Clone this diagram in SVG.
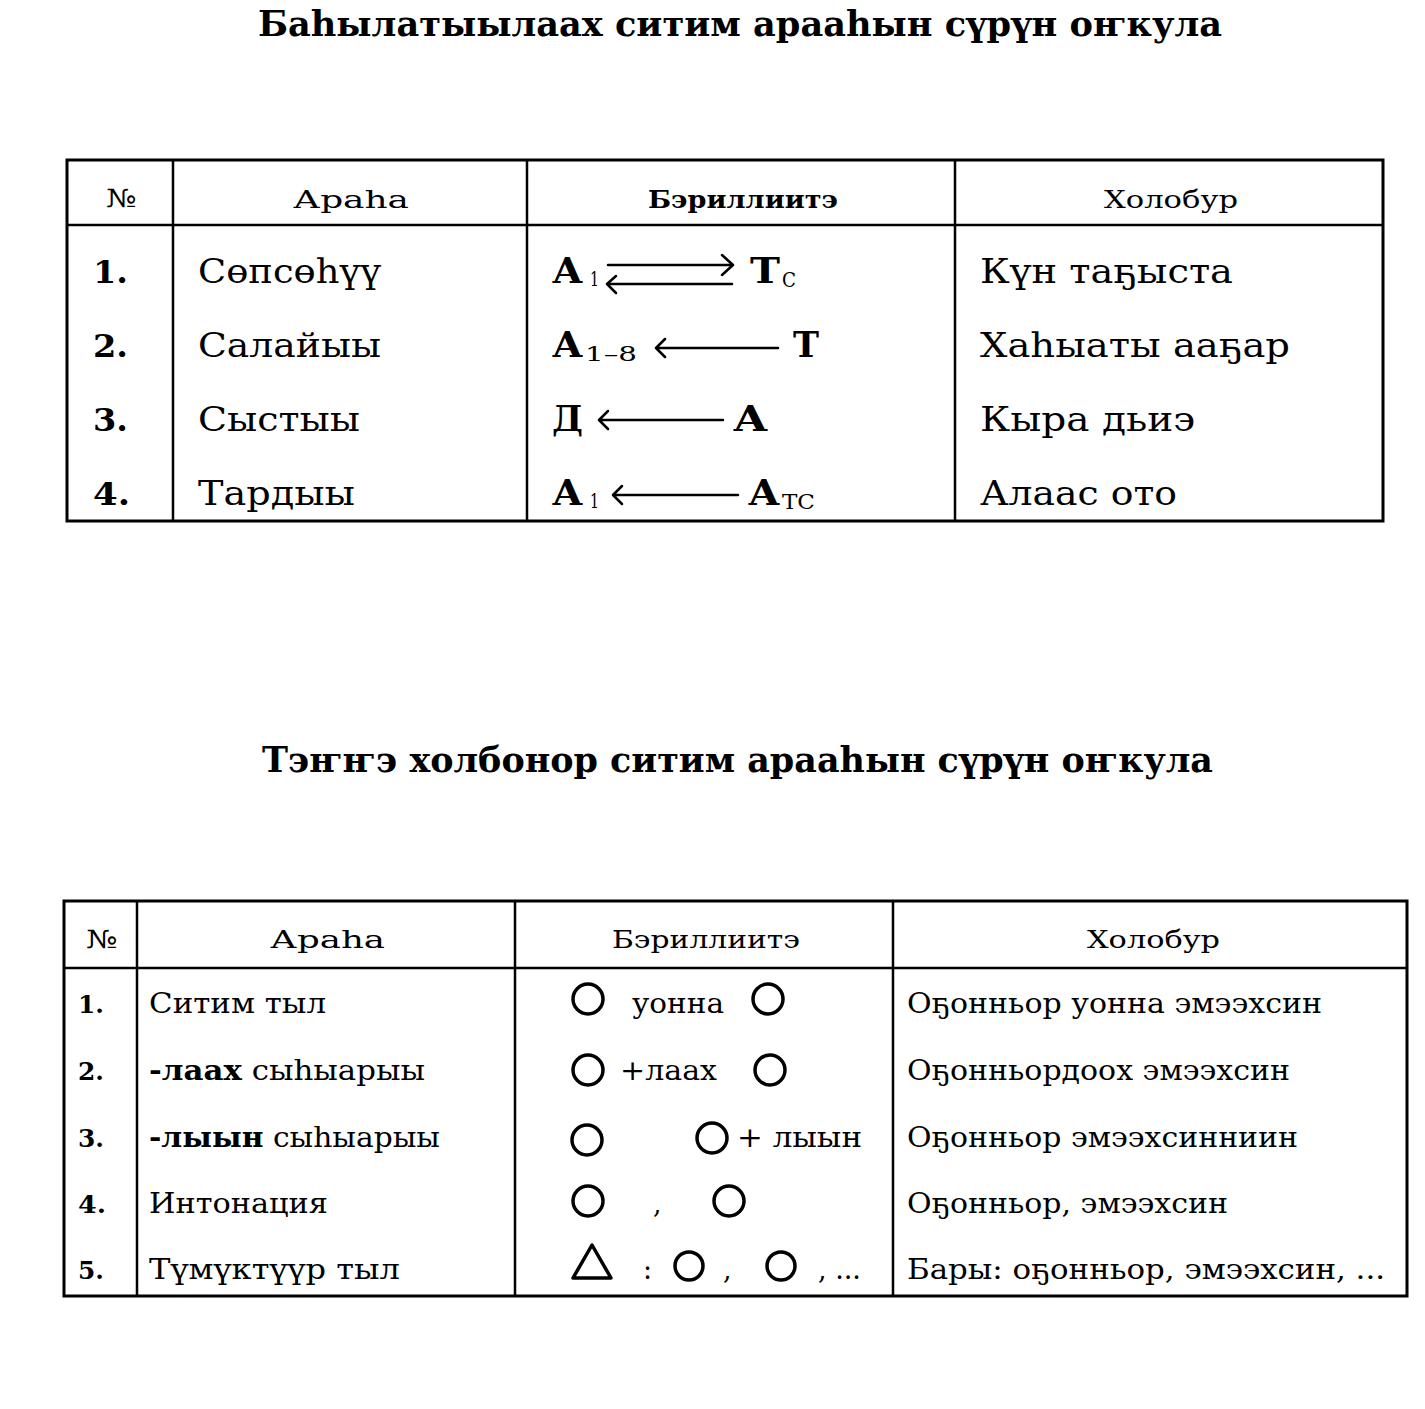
<svg xmlns="http://www.w3.org/2000/svg" width="1425" height="1409" viewBox="0 0 1425 1409">
<style>
text{font-family:"DejaVu Serif","Liberation Serif","Noto Serif",serif;fill:#000}
.title{font-size:36px;font-weight:bold}
.hd{font-size:25px}
.hdb{font-size:25px;font-weight:bold}
.num1{font-size:32px;font-weight:bold}
.b1{font-size:34px}
.f1{font-size:35px;font-weight:bold}
.s1{font-size:21px}
.num2{font-size:25px;font-weight:bold}
.b2{font-size:27px}
.frame{fill:none;stroke:#000;stroke-width:3}
.grid{stroke:#000;stroke-width:2.5;fill:none}
.arr{stroke:#000;stroke-width:2.5;fill:none;stroke-linecap:round;stroke-linejoin:round}
.sym{stroke:#000;stroke-width:3.5;fill:none}
</style>
<rect width="1425" height="1409" fill="#fff"/>

<g id="title1">
<text class="title" x="258" y="36" textLength="964" lengthAdjust="spacingAndGlyphs">Баһылатыылаах ситим арааһын сүрүн оҥкула</text>
</g>

<g id="table1">
<rect class="frame" x="67" y="160" width="1316" height="361"/>
<line class="grid" x1="67" y1="225" x2="1383" y2="225"/>
<line class="grid" x1="173" y1="160" x2="173" y2="521"/>
<line class="grid" x1="527" y1="160" x2="527" y2="521"/>
<line class="grid" x1="955" y1="160" x2="955" y2="521"/>
<g id="t1-header">
<text class="hd" x="106" y="207" textLength="31" lengthAdjust="spacingAndGlyphs">№</text>
<text class="hd" x="293" y="208" textLength="116" lengthAdjust="spacingAndGlyphs">Араһа</text>
<text class="hdb" x="648" y="208" textLength="190" lengthAdjust="spacingAndGlyphs">Бэриллиитэ</text>
<text class="hd" x="1104" y="208" textLength="134" lengthAdjust="spacingAndGlyphs">Холобур</text>
</g>
<g id="t1-row1">
<text class="num1" x="93" y="283" textLength="35" lengthAdjust="spacingAndGlyphs">1.</text>
<text class="b1" x="198" y="283" textLength="183" lengthAdjust="spacingAndGlyphs">Сөпсөһүү</text>
<text class="f1" x="552" y="283" textLength="31" lengthAdjust="spacingAndGlyphs">А</text><text class="s1" x="590" y="286" textLength="9" lengthAdjust="spacingAndGlyphs">1</text>
<text class="f1" x="750" y="283" textLength="30" lengthAdjust="spacingAndGlyphs">Т</text><text class="s1" x="782" y="287" textLength="14" lengthAdjust="spacingAndGlyphs">С</text>
<text class="b1" x="980" y="283" textLength="253" lengthAdjust="spacingAndGlyphs">Күн таҕыста</text>
</g>
<g id="t1-row2">
<text class="num1" x="93" y="357" textLength="35" lengthAdjust="spacingAndGlyphs">2.</text>
<text class="b1" x="198" y="357" textLength="183" lengthAdjust="spacingAndGlyphs">Салайыы</text>
<text class="f1" x="552" y="357" textLength="31" lengthAdjust="spacingAndGlyphs">А</text><text class="s1" x="585" y="361" textLength="52" lengthAdjust="spacingAndGlyphs">1–8</text>
<text class="f1" x="793" y="357" textLength="26" lengthAdjust="spacingAndGlyphs">Т</text>
<text class="b1" x="980" y="357" textLength="310" lengthAdjust="spacingAndGlyphs">Хаһыаты ааҕар</text>
</g>
<g id="t1-row3">
<text class="num1" x="93" y="431" textLength="35" lengthAdjust="spacingAndGlyphs">3.</text>
<text class="b1" x="198" y="431" textLength="162" lengthAdjust="spacingAndGlyphs">Сыстыы</text>
<text class="f1" x="552" y="431" textLength="31" lengthAdjust="spacingAndGlyphs">Д</text>
<text class="f1" x="733" y="431" textLength="35" lengthAdjust="spacingAndGlyphs">А</text>
<text class="b1" x="980" y="431" textLength="215" lengthAdjust="spacingAndGlyphs">Кыра дьиэ</text>
</g>
<g id="t1-row4">
<text class="num1" x="93" y="505" textLength="37" lengthAdjust="spacingAndGlyphs">4.</text>
<text class="b1" x="198" y="505" textLength="157" lengthAdjust="spacingAndGlyphs">Тардыы</text>
<text class="f1" x="552" y="505" textLength="31" lengthAdjust="spacingAndGlyphs">А</text><text class="s1" x="590" y="508" textLength="9" lengthAdjust="spacingAndGlyphs">1</text>
<text class="f1" x="748" y="505" textLength="32" lengthAdjust="spacingAndGlyphs">А</text><text class="s1" x="782" y="509" textLength="33" lengthAdjust="spacingAndGlyphs">ТС</text>
<text class="b1" x="980" y="505" textLength="197" lengthAdjust="spacingAndGlyphs">Алаас ото</text>
</g>
</g>

<g id="connectors">
<path class="arr" d="M608 265 H733 M722 255 L733 265 L722 275"/>
<path class="arr" d="M732 284 H607 M616 276 L607 284 L616 293"/>
<path class="arr" d="M778 348 H656 M665 339 L656 348 L665 357"/>
<path class="arr" d="M723 420 H599 M608 411 L599 420 L608 429"/>
<path class="arr" d="M738 495 H613 M622 486 L613 495 L622 504"/>
</g>

<g id="title2">
<text class="title" x="262" y="772" textLength="951" lengthAdjust="spacingAndGlyphs">Тэҥҥэ холбонор ситим арааһын сүрүн оҥкула</text>
</g>

<g id="table2">
<rect class="frame" x="64" y="901" width="1343" height="395"/>
<line class="grid" x1="64" y1="968" x2="1407" y2="968"/>
<line class="grid" x1="137" y1="901" x2="137" y2="1296"/>
<line class="grid" x1="515" y1="901" x2="515" y2="1296"/>
<line class="grid" x1="893" y1="901" x2="893" y2="1296"/>
<g id="t2-header">
<text class="hd" x="86" y="948" textLength="32" lengthAdjust="spacingAndGlyphs">№</text>
<text class="hd" x="270" y="948" textLength="115" lengthAdjust="spacingAndGlyphs">Араһа</text>
<text class="hd" x="612" y="948" textLength="188" lengthAdjust="spacingAndGlyphs">Бэриллиитэ</text>
<text class="hd" x="1087" y="948" textLength="133" lengthAdjust="spacingAndGlyphs">Холобур</text>
</g>
<g id="t2-row1">
<text class="num2" x="78" y="1013" textLength="26" lengthAdjust="spacingAndGlyphs">1.</text>
<text class="b2" x="149" y="1013" textLength="177" lengthAdjust="spacingAndGlyphs">Ситим тыл</text>
<circle class="sym" cx="588" cy="999" r="15"/>
<text class="b2" x="632" y="1013" textLength="92" lengthAdjust="spacingAndGlyphs">уонна</text>
<circle class="sym" cx="768" cy="999" r="15"/>
<text class="b2" x="907" y="1013" textLength="415" lengthAdjust="spacingAndGlyphs">Оҕонньор уонна эмээхсин</text>
</g>
<g id="t2-row2">
<text class="num2" x="78" y="1080" textLength="26" lengthAdjust="spacingAndGlyphs">2.</text>
<text class="b2" x="149" y="1080" textLength="276" lengthAdjust="spacingAndGlyphs"><tspan font-weight="bold">-лаах</tspan> сыһыарыы</text>
<circle class="sym" cx="588" cy="1070" r="15"/>
<text class="b2" x="620" y="1080" textLength="97" lengthAdjust="spacingAndGlyphs">+лаах</text>
<circle class="sym" cx="770" cy="1070" r="15"/>
<text class="b2" x="907" y="1080" textLength="383" lengthAdjust="spacingAndGlyphs">Оҕонньордоох эмээхсин</text>
</g>
<g id="t2-row3">
<text class="num2" x="78" y="1147" textLength="26" lengthAdjust="spacingAndGlyphs">3.</text>
<text class="b2" x="149" y="1147" textLength="291" lengthAdjust="spacingAndGlyphs"><tspan font-weight="bold">-лыын</tspan> сыһыарыы</text>
<circle class="sym" cx="587" cy="1140" r="15"/>
<circle class="sym" cx="712" cy="1138" r="15"/>
<text class="b2" x="737" y="1147" textLength="125" lengthAdjust="spacingAndGlyphs">+ лыын</text>
<text class="b2" x="907" y="1147" textLength="391" lengthAdjust="spacingAndGlyphs">Оҕонньор эмээхсинниин</text>
</g>
<g id="t2-row4">
<text class="num2" x="78" y="1213" textLength="28" lengthAdjust="spacingAndGlyphs">4.</text>
<text class="b2" x="149" y="1213" textLength="179" lengthAdjust="spacingAndGlyphs">Интонация</text>
<circle class="sym" cx="588" cy="1201" r="15"/>
<text class="b2" x="653" y="1213">,</text>
<circle class="sym" cx="729" cy="1201" r="15"/>
<text class="b2" x="907" y="1213" textLength="321" lengthAdjust="spacingAndGlyphs">Оҕонньор, эмээхсин</text>
</g>
<g id="t2-row5">
<text class="num2" x="78" y="1279" textLength="26" lengthAdjust="spacingAndGlyphs">5.</text>
<text class="b2" x="149" y="1279" textLength="251" lengthAdjust="spacingAndGlyphs">Түмүктүүр тыл</text>
<path class="sym" d="M592 1245 L573 1278 L611 1278 Z" stroke-linejoin="round"/>
<text class="b2" x="643" y="1279">:</text>
<circle class="sym" cx="689" cy="1266" r="14"/>
<text class="b2" x="723" y="1279">,</text>
<circle class="sym" cx="781" cy="1266" r="14"/>
<text class="b2" x="818" y="1279">, ...</text>
<text class="b2" x="907" y="1279" textLength="478" lengthAdjust="spacingAndGlyphs">Бары: оҕонньор, эмээхсин, ...</text>
</g>
</g>
</svg>
